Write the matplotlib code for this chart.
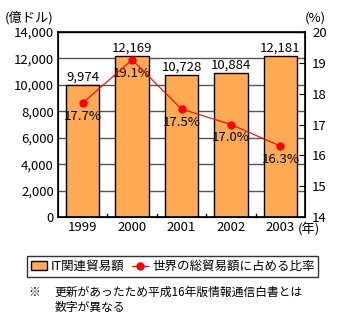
import numpy as np
import matplotlib
matplotlib.use('Agg')
import matplotlib.pyplot as plt

plt.rcParams['font.family'] = ['Noto Sans CJK JP', 'DejaVu Sans']

years = ['1999', '2000', '2001', '2002', '2003']
trade = [9974, 12169, 10728, 10884, 12181]
share = [17.7, 19.1, 17.5, 17.0, 16.3]

fig = plt.figure(figsize=(3.39, 3.27), dpi=100)
ax = fig.add_axes([0.171, 0.3364, 0.729, 0.5656])
x = np.arange(len(years))

ax.set_axisbelow(True)
ax.yaxis.grid(True, color='#555555', linewidth=1)
bars = ax.bar(x, trade, 0.68, color='#FFAA55', edgecolor='black', linewidth=1,
              label='IT関連貿易額', zorder=2)
ax.set_ylim(0, 14000)
ax.set_xlim(-0.5, 4.5)
ax.set_yticks(range(0, 14001, 2000))
ax.set_yticklabels(['{:,}'.format(v) for v in range(0, 14001, 2000)], fontsize=9.5)
ax.set_xticks(x)
ax.set_xticklabels(years, fontsize=9.5)
ax.tick_params(axis='x', length=0, pad=3)
ax.tick_params(axis='y', length=0, pad=3)
for b in np.arange(0.5, 4.5, 1):
    ax.plot([b, b], [0, 250], color='black', linewidth=1, zorder=3, clip_on=False)
for sp in ax.spines.values():
    sp.set_linewidth(1.2)

for xi, v in zip(x, trade):
    ax.text(xi, v + 120, '{:,}'.format(v), ha='center', va='bottom', fontsize=9.5)

ax2 = ax.twinx()
ax2.set_ylim(14, 20)
ax2.set_yticks(range(14, 21))
ax2.tick_params(axis='y', direction='in', length=4, labelsize=9.5, pad=5)
line, = ax2.plot(x, share, color='red', linewidth=0.8, marker='o', markersize=5,
                 label='世界の総貿易額に占める比率', zorder=4)
for xi, v in zip(x, share):
    ax2.annotate('{:.1f}%'.format(v), (xi, v), xytext=(0, -5), textcoords='offset points',
                 ha='center', va='top', fontsize=9.5)

fig.text(0.015, 0.945, '(億ドル)', fontsize=9.5, ha='left', va='center')
fig.text(0.90, 0.945, '(%)', fontsize=9.5, ha='left', va='center')
fig.text(0.878, 0.297, '(年)', fontsize=9.5, ha='left', va='center')

leg = fig.legend([bars, line], ['IT関連貿易額', '世界の総貿易額に占める比率'], loc='center',
                 bbox_to_anchor=(0.51, 0.185), ncol=2, fontsize=9, frameon=True,
                 fancybox=False, edgecolor='black', borderpad=0.3, handlelength=1.3,
                 handletextpad=0.3, columnspacing=0.6)
leg.get_frame().set_linewidth(1)

fig.text(0.085, 0.105, '※', fontsize=8.5, ha='left', va='center')
fig.text(0.16, 0.125, '更新があったため平成16年版情報通信白書とは\n数字が異なる', fontsize=8.5,
         ha='left', va='top', linespacing=1.2)

fig.savefig('out.png', dpi=100)
